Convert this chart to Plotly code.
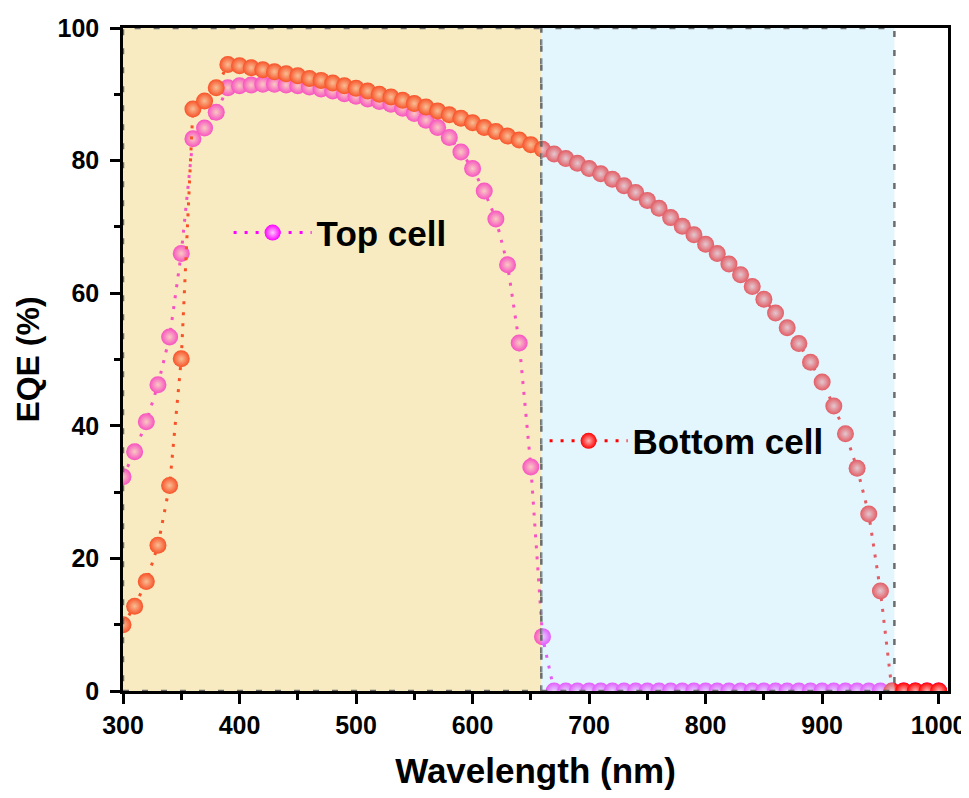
import plotly.graph_objects as go

wavelength = list(range(300, 1001, 10))

top_cell = [32.3, 36.1, 40.6, 46.2, 53.4, 66.0, 83.3, 84.9, 87.3, 91.0,
            91.3, 91.4, 91.5, 91.5, 91.4, 91.3, 91.1, 90.8, 90.5, 90.1,
            89.7, 89.3, 88.9, 88.5, 87.9, 87.1, 86.1, 85.0, 83.5, 81.3,
            78.8, 75.4, 71.2, 64.3, 52.5, 33.8, 8.2] + [0.0] * 34

bottom_cell = [10.0, 12.8, 16.5, 22.0, 31.0, 50.1, 87.8, 89.0, 91.0, 94.5,
               94.3, 94.0, 93.7, 93.4, 93.1, 92.8, 92.4, 92.1, 91.7, 91.3,
               90.9, 90.5, 90.0, 89.6, 89.1, 88.6, 88.1, 87.5, 86.9, 86.4,
               85.7, 85.0, 84.4, 83.7, 83.1, 82.4, 81.7, 81.0, 80.3, 79.6,
               78.8, 78.0, 77.2, 76.2, 75.2, 74.0, 72.8, 71.4, 70.1, 68.8,
               67.4, 66.0, 64.4, 62.8, 61.0, 59.1, 57.0, 54.8, 52.4, 49.6,
               46.6, 43.0, 38.8, 33.6, 26.7, 15.1] + [0.0] * 5

top_region = (300, 659)
bottom_region = (659, 962)

FONT = "Liberation Sans, Arial, sans-serif"

fig = go.Figure()
fig.add_trace(go.Scatter(
    x=wavelength, y=top_cell, mode="lines+markers", name="Top cell",
    line=dict(color="#FF00FF", width=3, dash="3px,8px"),
    marker=dict(size=17, color="#FF00FF", line=dict(width=0),
                gradient=dict(type="radial", color="#FFC8FF")),
    legend="legend",
))
fig.add_trace(go.Scatter(
    x=wavelength, y=bottom_cell, mode="lines+markers", name="Bottom cell",
    line=dict(color="#FF0000", width=3, dash="3px,8px"),
    marker=dict(size=17, color="#FF0000", line=dict(width=0),
                gradient=dict(type="radial", color="#FFB4B4")),
    legend="legend2",
))

fig.add_shape(type="rect", xref="x", yref="y", x0=top_region[0], x1=top_region[1],
              y0=0, y1=100, layer="above",
              fillcolor="rgba(238,204,100,0.40)",
              line=dict(color="rgba(100,100,100,0.95)", width=2.5, dash="6px,13px"))
fig.add_shape(type="rect", xref="x", yref="y", x0=bottom_region[0], x1=bottom_region[1],
              y0=0, y1=100, layer="above",
              fillcolor="rgba(185,231,250,0.40)",
              line=dict(color="rgba(100,100,100,0.95)", width=2.5, dash="6px,13px"))

axis_common = dict(
    showline=True, linecolor="black", linewidth=2.5, mirror=True,
    ticks="outside", ticklen=10, tickwidth=2.5, tickcolor="black",
    showgrid=False, zeroline=False, automargin=False,
    ticklabeloverflow="allow",
    tickfont=dict(family=FONT, size=25, color="black", weight="bold"),
)

fig.update_xaxes(
    range=[300, 1008], tickmode="linear", tick0=300, dtick=100,
    minor=dict(ticks="outside", ticklen=6, tickwidth=2.5, tickcolor="black", dtick=50, tick0=300),
    title=dict(text="Wavelength (nm)", standoff=31,
               font=dict(family=FONT, size=35, color="black", weight="bold")),
    **axis_common,
)
fig.update_yaxes(
    range=[0, 100], tickmode="linear", tick0=0, dtick=20,
    minor=dict(ticks="outside", ticklen=6, tickwidth=2.5, tickcolor="black", dtick=10, tick0=0),
    ticklabelstandoff=6,
    title=dict(text="EQE (%)", standoff=9,
               font=dict(family=FONT, size=32, color="black", weight="bold")),
    **axis_common,
)

legend_font = dict(family=FONT, size=35, color="black", weight="bold")
fig.update_layout(
    width=961, height=782,
    margin=dict(l=115, r=21, t=20, b=99, autoexpand=False),
    paper_bgcolor="white", plot_bgcolor="white",
    showlegend=True,
    legend=dict(x=0.128, y=0.691, xanchor="left", yanchor="middle",
                bgcolor="rgba(0,0,0,0)", borderwidth=0, font=legend_font,
                itemwidth=78),
    legend2=dict(x=0.511, y=0.377, xanchor="left", yanchor="middle",
                 bgcolor="rgba(0,0,0,0)", borderwidth=0, font=legend_font,
                 itemwidth=78),
)

fig.write_html("out.html")
